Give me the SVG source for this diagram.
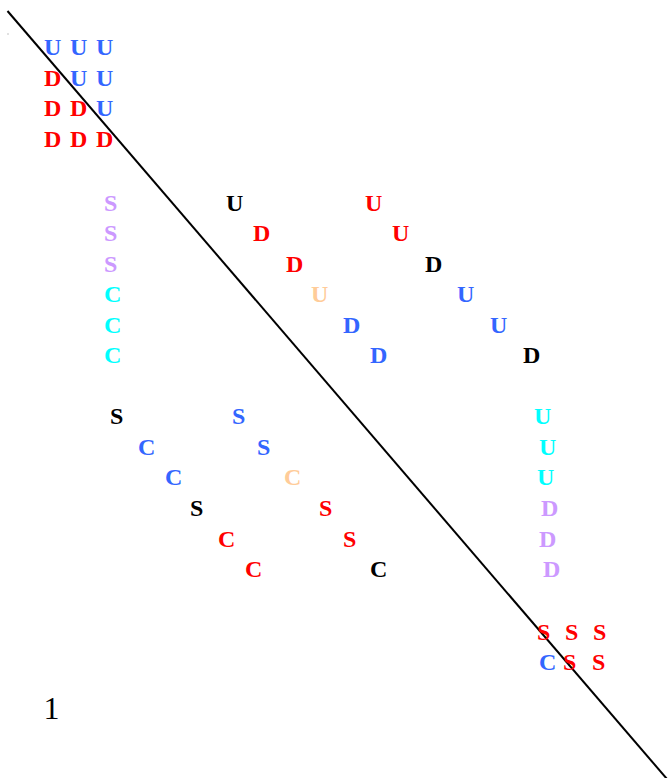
<svg xmlns="http://www.w3.org/2000/svg" width="670" height="778" viewBox="0 0 670 778">
<style>
text{font-family:"Liberation Serif","Times New Roman",serif;font-weight:bold;font-size:24px}
.b{fill:#3366FF}.r{fill:#FF0000}.k{fill:#000000}.l{fill:#CC99FF}.c{fill:#00FFFF}.p{fill:#FFCC99}
.n{font-weight:normal;font-size:32px}
</style>
<rect width="670" height="778" fill="#FFFFFF"/>
<g id="connectors">
<line x1="7.5" y1="11" x2="667" y2="779" stroke="#000" stroke-width="2"/>
<rect x="7.5" y="33.5" width="1" height="1" fill="#888"/>
</g>
<g id="grid">
<text x="44" y="55" class="b">U</text><text x="70" y="55" class="b">U</text><text x="96" y="55" class="b">U</text>
<text x="44" y="85.5" class="r">D</text><text x="70" y="85.5" class="b">U</text><text x="96" y="85.5" class="b">U</text>
<text x="44" y="116" class="r">D</text><text x="70" y="116" class="r">D</text><text x="96" y="116" class="b">U</text>
<text x="44" y="146.5" class="r">D</text><text x="70" y="146.5" class="r">D</text><text x="96" y="146.5" class="r">D</text>
</g>
<g id="col1">
<text x="104" y="210.5" class="l">S</text>
<text x="104" y="241" class="l">S</text>
<text x="104" y="271.5" class="l">S</text>
<text x="104" y="302" class="c">C</text>
<text x="104" y="332.5" class="c">C</text>
<text x="104" y="363" class="c">C</text>
</g>
<g id="diag1">
<text x="226" y="210.5" class="k">U</text>
<text x="253" y="241" class="r">D</text>
<text x="286" y="271.5" class="r">D</text>
<text x="311" y="302" class="p">U</text>
<text x="343" y="332.5" class="b">D</text>
<text x="370" y="363" class="b">D</text>
</g>
<g id="diag2">
<text x="365" y="210.5" class="r">U</text>
<text x="392" y="241" class="r">U</text>
<text x="425" y="271.5" class="k">D</text>
<text x="457" y="302" class="b">U</text>
<text x="490" y="332.5" class="b">U</text>
<text x="523" y="363" class="k">D</text>
</g>
<g id="diag3">
<text x="110" y="424" class="k">S</text>
<text x="138" y="454.7" class="b">C</text>
<text x="165" y="485.3" class="b">C</text>
<text x="190" y="516" class="k">S</text>
<text x="218" y="546.7" class="r">C</text>
<text x="245" y="577.3" class="r">C</text>
</g>
<g id="diag4">
<text x="232" y="424" class="b">S</text>
<text x="257" y="454.7" class="b">S</text>
<text x="284" y="485.3" class="p">C</text>
<text x="319" y="516" class="r">S</text>
<text x="343" y="546.7" class="r">S</text>
<text x="370" y="577.3" class="k">C</text>
</g>
<g id="col2">
<text x="534" y="424" class="c">U</text>
<text x="539" y="454.7" class="c">U</text>
<text x="537" y="485.3" class="c">U</text>
<text x="541" y="516" class="l">D</text>
<text x="539" y="546.7" class="l">D</text>
<text x="543" y="577.3" class="l">D</text>
</g>
<g id="grid2">
<text x="537" y="639.5" class="r">S</text><text x="565" y="639.5" class="r">S</text><text x="593" y="639.5" class="r">S</text>
<text x="539" y="670" class="b">C</text><text x="563" y="670" class="r">S</text><text x="592" y="670" class="r">S</text>
</g>
<g id="label">
<text x="43.5" y="719" class="k n">1</text>
</g>
</svg>
